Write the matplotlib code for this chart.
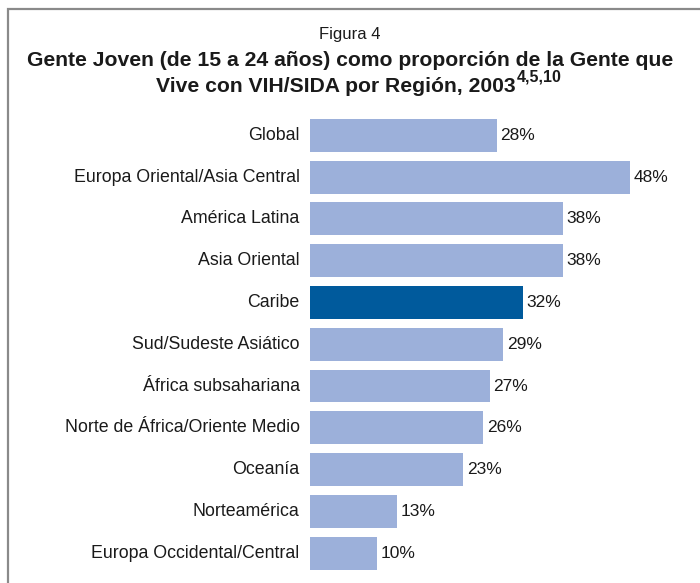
import matplotlib
matplotlib.use("Agg")
import matplotlib.pyplot as plt
from matplotlib.patches import Rectangle

categories = ["Global", "Europa Oriental/Asia Central", "América Latina", "Asia Oriental",
              "Caribe", "Sud/Sudeste Asiático", "África subsahariana",
              "Norte de África/Oriente Medio", "Oceanía", "Norteamérica",
              "Europa Occidental/Central"]
values = [28, 48, 38, 38, 32, 29, 27, 26, 23, 13, 10]
highlight = "Caribe"

light = "#9CB0DA"
dark = "#005A9C"
W, H = 700, 583
plt.rcParams['font.family'] = ['Liberation Sans', 'DejaVu Sans']

fig = plt.figure(figsize=(W/100, H/100), dpi=100)

# frame
fig.patches.append(Rectangle((8/W, -0.1), 1.2, 1 - 9/H + 0.1, transform=fig.transFigure,
                             fill=False, edgecolor="#8a8a8a", linewidth=1.6))

# axes placement
ax_left, ax_right = 310, 690
top_px, bot_px = 114.6, 573.9
ax = fig.add_axes([ax_left/W, 1 - bot_px/H, (ax_right-ax_left)/W, (bot_px-top_px)/H])
xmax = (ax_right - ax_left) / (320/48)
n = len(categories)
colors = [dark if c == highlight else light for c in categories]
ax.barh(range(n), values, height=0.79, color=colors, left=0)
ax.set_xlim(0, xmax)
ax.set_ylim(n - 0.5, -0.5)
ax.axis("off")
for i, (c, v) in enumerate(zip(categories, values)):
    ax.annotate(f"{v}%", (v, i), xytext=(2.5, 0), textcoords="offset points",
                va="center", ha="left", fontsize=12.5, color="#1a1a1a")
    ax.annotate(c, (0, i), xytext=(-7.5, 0), textcoords="offset points",
                va="center", ha="right", fontsize=12.8, color="#1a1a1a")

# titles
cx = 350/W
fig.text(cx, 1 - 39.5/H, "Figura 4", ha="center", va="baseline", fontsize=12, color="#1a1a1a")
fig.text(cx, 1 - 66/H, "Gente Joven (de 15 a 24 años) como proporción de la Gente que",
         ha="center", va="baseline", fontsize=15.2, fontweight="bold", color="#1a1a1a")
line2 = "Vive con VIH/SIDA por Región, 2003"
sup = "4,5,10"
renderer = fig.canvas.get_renderer()
t2 = fig.text(0, 1 - 92/H, line2, ha="left", va="baseline", fontsize=15.2,
              fontweight="bold", color="#1a1a1a")
ts = fig.text(0, 1 - 82/H, sup, ha="left", va="baseline", fontsize=11.5,
              fontweight="bold", color="#1a1a1a")
w2 = t2.get_window_extent(renderer).width
ws = ts.get_window_extent(renderer).width
total = w2 + ws
x0 = 358 - total/2
t2.set_x(x0/W)
ts.set_x((x0 + w2 + 1)/W)

fig.savefig("out.png", dpi=100)
